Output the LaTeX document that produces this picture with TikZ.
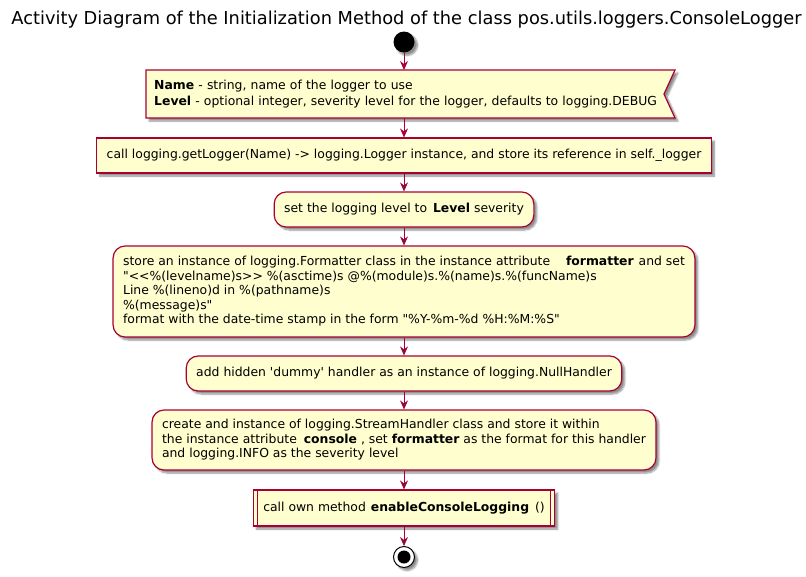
\documentclass[tikz,border=0pt]{standalone}
\usepackage{fontspec}
\newfontfamily\umlfont{DejaVu Sans}
\usetikzlibrary{arrows.meta,shadows,shadows.blur,positioning}
\definecolor{umlred}{HTML}{A80036}
\definecolor{umlfill}{HTML}{FEFECE}

\begin{document}
\begin{tikzpicture}[x=1pt,y=-1pt]
\tikzstyle{umlshadow}=[blur shadow={shadow xshift=3pt, shadow yshift=-3pt, shadow blur steps=6, shadow opacity=45}]
\tikzstyle{action}=[rectangle, rounded corners=12pt, draw=umlred, fill=umlfill,
	line width=1.2pt, inner xsep=10pt, inner ysep=0pt, align=left,
	font=\umlfont\fontsize{12.4}{14.5}\selectfont, umlshadow]
\tikzstyle{flow}=[draw=umlred, line width=0.9pt, -{Stealth[length=9pt,width=8pt,inset=3pt]}]
\useasboundingbox (0,0) rectangle (806,576);

\node[font=\umlfont\fontsize{17.8}{20}\selectfont] (title) at (406.5,20)
	{Activity Diagram of the Initialization Method of the class pos.utils.loggers.ConsoleLogger};
\node[circle, fill=black, minimum size=21pt, inner sep=0pt, umlshadow] (start) at (404,42) {};

% input parameters
\path[draw=umlred, fill=umlfill, line width=1.2pt, umlshadow] (146,70) -- (675,70)
	-- (664,94) -- (675,118) -- (146,118) -- cycle;
\node[anchor=north west, text width=513pt, minimum height=48pt, inner xsep=8pt, inner ysep=0pt,
	align=left, font=\umlfont\fontsize{12.4}{15.5}\selectfont] (flag) at (146,70)
	{\textbf{Name} - string, name of the logger to use\\
	\textbf{Level} - optional integer, severity level for the logger, defaults to logging.DEBUG};
\coordinate (flagin) at (404,70);
\coordinate (flagout) at (404,118);

\node[action, rounded corners=0pt, minimum height=35pt] (call) at (404,155.5)
	{call logging.getLogger(Name) -> logging.Logger instance, and store its reference in self.\_logger};
\node[action, minimum height=35pt] (level) at (404,209.5)
	{set the logging level to\hspace{2pt} \textbf{Level} severity};
\node[action, minimum height=91pt] (fmt) at (404,291.5)
	{store an instance of logging.Formatter class in the instance attribute\hspace{12pt} \textbf{formatter}\hspace{1pt} and set\\
	"<<\%(levelname)s>> \%(asctime)s @\%(module)s.\%(name)s.\%(funcName)s\\
	Line \%(lineno)d in \%(pathname)s\\
	\%(message)s"\\
	format with the date-time stamp in the form "\%Y-\%m-\%d \%H:\%M:\%S"};
\node[action, minimum height=35pt] (dummy) at (404,373.5)
	{add hidden 'dummy' handler as an instance of logging.NullHandler};
\node[action, minimum height=60pt] (stream) at (404,440)
	{create and instance of logging.StreamHandler class and store it within\\
	the instance attribute\hspace{3pt} \textbf{console} , set \textbf{formatter} as the format for this handler\\
	and logging.INFO as the severity level};
\node[action, rounded corners=0pt, minimum height=36pt, inner xsep=10pt] (enable) at (404,508)
	{call own method\hspace{1pt} \textbf{enableConsoleLogging}\hspace{2pt} ()};
\draw[umlred, line width=1.2pt] ([xshift=5pt]enable.north west) -- ([xshift=5pt]enable.south west);
\draw[umlred, line width=1.2pt] ([xshift=-5pt]enable.north east) -- ([xshift=-5pt]enable.south east);
\node[circle, draw=black, fill=white, line width=1pt, minimum size=21pt, inner sep=0pt, umlshadow,
	path picture={\fill[black] (path picture bounding box.center) circle (6.5pt);}] (stop) at (404,557) {};

\draw[flow] (start) -- (flagin);
\draw[flow] (flagout) -- (call.north);
\path[flow] (call) edge (level);
\path[flow] (level) edge (fmt);
\path[flow] (fmt) edge (dummy);
\path[flow] (dummy) edge (stream);
\path[flow] (stream) edge (enable);
\path[flow] (enable) edge (stop);

\end{tikzpicture}
\end{document}
